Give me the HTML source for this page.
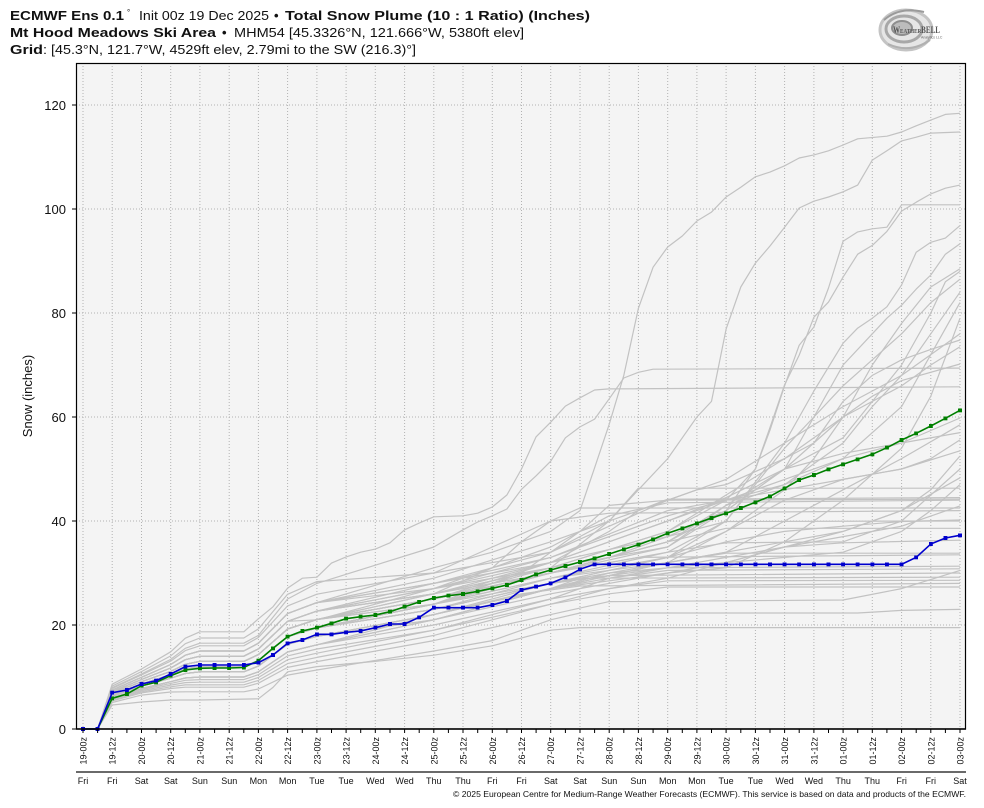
<!DOCTYPE html>
<html><head><meta charset="utf-8"><style>
html,body{margin:0;padding:0;background:#fff;}
svg{display:block;font-family:"Liberation Sans",sans-serif;}
</style></head><body>
<svg width="984" height="808" viewBox="0 0 984 808" xmlns="http://www.w3.org/2000/svg">
<defs>
<marker id="mgr" markerWidth="4" markerHeight="4" refX="2" refY="2" markerUnits="userSpaceOnUse"><rect width="4" height="4" fill="#008000"/></marker>
<marker id="mbl" markerWidth="4" markerHeight="4" refX="2" refY="2" markerUnits="userSpaceOnUse"><rect width="4" height="4" fill="#0000cd"/></marker>
<clipPath id="clip"><rect x="76" y="63" width="890" height="667"/></clipPath>
</defs>

<!-- title -->
<text y="20" font-size="13" fill="#111">
<tspan x="10" font-weight="bold" textLength="114" lengthAdjust="spacingAndGlyphs">ECMWF Ens 0.1</tspan>
<tspan x="127" y="15" font-size="8">°</tspan>
<tspan x="139" y="20" textLength="130" lengthAdjust="spacingAndGlyphs">Init 00z 19 Dec 2025</tspan>
<tspan x="274" font-weight="bold">•</tspan>
<tspan x="285" font-weight="bold" textLength="305" lengthAdjust="spacingAndGlyphs">Total Snow Plume (10 : 1 Ratio) (Inches)</tspan>
</text>
<text y="37" font-size="13" fill="#111">
<tspan x="10" font-weight="bold" textLength="206" lengthAdjust="spacingAndGlyphs">Mt Hood Meadows Ski Area</tspan>
<tspan x="222" font-weight="bold">•</tspan>
<tspan x="234" textLength="290" lengthAdjust="spacingAndGlyphs">MHM54 [45.3326°N, 121.666°W, 5380ft elev]</tspan>
</text>
<text y="54" font-size="13" fill="#111">
<tspan x="10" font-weight="bold" textLength="33" lengthAdjust="spacingAndGlyphs">Grid</tspan>
<tspan x="43" textLength="373" lengthAdjust="spacingAndGlyphs">: [45.3°N, 121.7°W, 4529ft elev, 2.79mi to the SW (216.3)°]</tspan>
</text>

<!-- logo -->
<g>
<ellipse cx="906" cy="30" rx="26" ry="20" fill="#e6e6e6" stroke="#c4c4c4" stroke-width="3"/>
<ellipse cx="904" cy="29" rx="18" ry="13" fill="none" stroke="#a8a8a8" stroke-width="3"/>
<ellipse cx="902" cy="28" rx="10" ry="7" fill="#bcbcbc" stroke="#8e8e8e" stroke-width="2"/>
<path d="M884 20 Q900 6 924 12" fill="none" stroke="#9a9a9a" stroke-width="2"/>
<path d="M888 44 Q910 54 930 40" fill="none" stroke="#b0b0b0" stroke-width="2"/>
<text x="893" y="33" font-family="Liberation Serif,serif" font-size="9" font-weight="bold" fill="#555" textLength="47" lengthAdjust="spacingAndGlyphs">W<tspan font-size="6.5">EATHER</tspan>BELL</text>
<text x="921" y="38.5" font-size="3.5" fill="#666">Analytics LLC</text>
</g>

<!-- plot background -->
<rect x="76" y="63" width="890" height="666" fill="#f4f4f4"/>

<!-- grid -->
<g stroke="#b2b2b2" stroke-width="1" stroke-dasharray="1,2" fill="none">
<path d="M76 625H966M76 521H966M76 417H966M76 313H966M76 209H966M76 105H966"/>
<path d="M83 63V729M112.2 63V729M141.5 63V729M170.7 63V729M199.9 63V729M229.2 63V729M258.4 63V729M287.6 63V729M316.9 63V729M346.1 63V729M375.3 63V729M404.6 63V729M433.8 63V729M463 63V729M492.3 63V729M521.5 63V729M550.7 63V729M580 63V729M609.2 63V729M638.4 63V729M667.7 63V729M696.9 63V729M726.1 63V729M755.4 63V729M784.6 63V729M813.9 63V729M843.1 63V729M872.3 63V729M901.6 63V729M930.8 63V729M960 63V729"/>
</g>

<!-- ensemble members -->
<g clip-path="url(#clip)" fill="none" stroke="#c2c2c2" stroke-width="1.2" stroke-linejoin="round">
<polyline points="83,729 97.6,729 112.2,684.2 141.5,669 170.7,651.8 185.3,638.2 199.9,631.8 243.8,631.8 258.4,618.8 273,606.8 287.6,588.1 302.3,578.2 316.9,577.2 331.5,563.1 346.1,556.9 360.7,552.2 375.3,549.1 390,542.8 404.6,529.8 419.2,523.1 433.8,516.8 463,515.8 477.7,513.2 492.3,507 506.9,495 521.5,469 536.1,436.8 550.7,422.2 565.4,406.1 580,397.8 594.6,390 609.2,388.9 960,386.8"/>
<polyline points="83,729 97.6,729 112.2,687.7 141.5,673.9 170.7,659.4 185.3,648.3 199.9,643.2 243.8,643.2 258.4,635.4 287.6,599 316.9,583.4 375.3,565.2 433.8,547 463,529.8 477.7,522 492.3,515.8 506.9,509 521.5,489.3 536.1,475.8 550.7,461.2 565.4,437.8 580,426.9 594.6,419.1 609.2,398.8 623.8,378 638.4,372.3 653.1,369.2 960,368.1"/>
<polyline points="83,729 97.6,729 112.2,690 141.5,677.3 170.7,664.5 185.3,655.2 199.9,651 243.8,651 258.4,643.2 287.6,613.6 316.9,602.6 433.8,567.8 492.3,552.2 550.7,531.4 580,510.6 594.6,467.8 609.2,424.3 623.8,375.4 638.4,308.3 653.1,267.2 667.7,247 682.3,236 696.9,221 711.5,212.1 726.1,197 740.8,187.2 755.4,176.8 770,172.1 784.6,165.8 799.2,158 813.9,154.9 828.5,150.8 843.1,145 857.7,138.8 886.9,136.2 901.6,132 916.2,125.8 930.8,120.1 945.4,114.4 960,113.3"/>
<polyline points="83,729 97.6,729 112.2,691.6 141.5,679.5 170.7,668 185.3,659.7 199.9,656.2 243.8,656.2 258.4,648.9 287.6,621.3 316.9,611.1 433.8,583.4 492.3,567.8 550.7,552.2 609.2,521 638.4,489.8 667.7,458.6 682.3,437.8 696.9,417 711.5,401.4 726.1,329.1 740.8,287 755.4,263.1 770,246 784.6,227.2 799.2,208 813.9,201.2 828.5,197 843.1,191.8 857.7,185.1 872.3,160.1 886.9,150.8 901.6,140.9 916.2,137.2 930.8,133.1 960,132"/>
<polyline points="83,729 97.6,729 112.2,693.1 141.5,681.7 170.7,671.4 185.3,664.3 199.9,661.4 243.8,661.4 258.4,654.6 287.6,629 316.9,619.5 433.8,593.8 550.7,573 667.7,541.8 726.1,510.6 755.4,469 770,427.4 784.6,384.8 799.2,355.1 813.9,317.2 828.5,302.1 843.1,277.1 857.7,254.2 872.3,245.4 886.9,231.4 901.6,211.1 916.2,202.2 930.8,193.9 945.4,188.2 960,185.1"/>
<polyline points="83,729 97.6,729 112.2,691.6 141.5,679.5 170.7,668 185.3,659.7 199.9,656.2 243.8,656.2 258.4,648.9 287.6,621.3 316.9,611.1 433.8,588.6 550.7,567.8 667.7,531.4 726.1,500.2 755.4,469 770,430 784.6,385.8 799.2,345.2 813.9,327 828.5,288 843.1,241.2 857.7,231.9 872.3,228.8 886.9,227.2 901.6,204.8 960,204.8"/>
<polyline points="83,729 97.6,729 112.2,694.7 141.5,684 170.7,674.8 185.3,668.9 199.9,666.6 243.8,666.6 258.4,660.4 287.6,636.6 316.9,627.9 433.8,604.2 550.7,583.4 667.7,557.4 726.1,521 784.6,443 813.9,391 843.1,343.2 857.7,328.1 872.3,318.2 886.9,306.8 901.6,284.9 916.2,252.2 930.8,242.3 945.4,238.1 960,225.6"/>
<polyline points="83,729 97.6,729 112.2,693.1 141.5,681.7 170.7,671.4 185.3,664.3 199.9,661.4 243.8,661.4 258.4,654.6 287.6,629 316.9,619.5 433.8,599 550.7,573 667.7,547 726.1,510.6 784.6,469 813.9,417 843.1,365 872.3,333.8 886.9,318.2 901.6,305.2 916.2,289.1 930.8,275 945.4,254.2 960,243.8"/>
<polyline points="83,729 97.6,729 112.2,696.2 141.5,686.2 170.7,678.2 185.3,673.5 199.9,671.8 243.8,671.8 258.4,666.1 287.6,644.3 316.9,636.3 433.8,614.6 550.7,588.6 667.7,562.6 726.1,531.4 784.6,489.8 813.9,458.6 843.1,417 872.3,365 901.6,323.4 930.8,287 960,268.8"/>
<polyline points="83,729 97.6,729 112.2,690 141.5,677.3 170.7,664.5 185.3,655.2 199.9,651 243.8,651 258.4,643.2 287.6,613.6 316.9,602.6 433.8,583.4 550.7,562.6 609.2,541.8 667.7,521 726.1,497.6 784.6,469 843.1,437.8 901.6,365 930.8,313 945.4,281.8 960,271.4"/>
<polyline points="83,729 97.6,729 112.2,694.7 141.5,684 170.7,674.8 185.3,668.9 199.9,666.6 243.8,666.6 258.4,660.4 287.6,636.6 316.9,627.9 433.8,604.2 550.7,578.2 667.7,552.2 726.1,521 784.6,448.2 813.9,417 843.1,385.8 872.3,359.8 901.6,333.8 930.8,302.6 960,279.2"/>
<polyline points="83,729 97.6,729 112.2,693.1 141.5,681.7 170.7,671.4 185.3,664.3 199.9,661.4 243.8,661.4 258.4,654.6 287.6,629 316.9,619.5 433.8,599 550.7,573 667.7,541.8 726.1,505.4 784.6,484.6 843.1,443 872.3,406.6 901.6,375.4 930.8,333.8 960,292.2"/>
<polyline points="83,729 97.6,729 112.2,691.6 141.5,679.5 170.7,668 185.3,659.7 199.9,656.2 243.8,656.2 258.4,648.9 287.6,621.3 316.9,619.8 433.8,588.6 550.7,557.4 667.7,515.8 726.1,500.2 784.6,484.6 843.1,458.6 901.6,406.6 930.8,354.6 960,302.6"/>
<polyline points="83,729 97.6,729 112.2,696.2 141.5,686.2 170.7,678.2 185.3,673.5 199.9,671.8 243.8,671.8 258.4,666.1 287.6,644.3 316.9,636.3 433.8,619.8 550.7,593.8 667.7,573 726.1,567.8 784.6,541.8 843.1,500.2 901.6,448.2 930.8,396.2 960,318.2"/>
<polyline points="83,729 97.6,729 112.2,690 141.5,677.3 170.7,664.5 185.3,655.2 199.9,651 243.8,651 258.4,643.2 287.6,613.6 316.9,602.6 433.8,578.2 550.7,541.8 638.4,510.6 726.1,479.4 784.6,443 843.1,406.6 901.6,375.4 930.8,354.6 960,333.8"/>
<polyline points="83,729 97.6,729 112.2,693.1 141.5,681.7 170.7,671.4 185.3,664.3 199.9,661.4 243.8,661.4 258.4,654.6 287.6,629 316.9,619.5 433.8,593.8 550.7,567.8 667.7,531.4 726.1,495 784.6,458.6 813.9,443 843.1,401.4 872.3,375.4 901.6,359.8 930.8,349.4 960,340"/>
<polyline points="83,729 97.6,729 112.2,686.1 141.5,671.6 170.7,655.9 185.3,643.7 199.9,638 243.8,638 258.4,628.9 287.6,594.3 316.9,581.6 433.8,573 550.7,552.2 667.7,500.2 696.9,489.8 726.1,484.6 784.6,458.6 843.1,417 901.6,385.8 930.8,365 960,346.8"/>
<polyline points="83,729 97.6,729 112.2,694.7 141.5,684 170.7,674.8 185.3,668.9 199.9,666.6 243.8,666.6 258.4,660.4 287.6,636.6 316.9,627.9 433.8,604.2 550.7,573 609.2,557.4 667.7,536.6 726.1,510.6 784.6,469 843.1,417 872.3,396.2 901.6,380.6 960,364"/>
<polyline points="83,729 97.6,729 112.2,691.6 141.5,679.5 170.7,668 185.3,659.7 199.9,656.2 243.8,656.2 258.4,648.9 287.6,621.3 316.9,611.1 433.8,588.6 550.7,562.6 667.7,521 726.1,500.2 784.6,479.4 843.1,458.6 901.6,443 960,418"/>
<polyline points="83,729 97.6,729 112.2,697.8 141.5,688.4 170.7,681.7 185.3,678 199.9,677 243.8,677 258.4,671.8 287.6,652 316.9,644.8 433.8,614.6 550.7,583.4 667.7,562.6 726.1,552.2 784.6,521 843.1,489.8 901.6,458.6 960,424.8"/>
<polyline points="83,729 97.6,729 112.2,693.1 141.5,681.7 170.7,671.4 185.3,664.3 199.9,661.4 243.8,661.4 258.4,654.6 287.6,629 316.9,619.5 433.8,599 550.7,567.8 667.7,547 726.1,505.4 784.6,469 843.1,453.4 901.6,443 960,432.6"/>
<polyline points="83,729 97.6,729 112.2,694.7 141.5,684 170.7,674.8 185.3,668.9 199.9,666.6 243.8,666.6 258.4,660.4 287.6,636.6 316.9,627.9 433.8,609.4 550.7,578.2 667.7,557.4 726.1,531.4 784.6,500.2 843.1,479.4 901.6,469 930.8,458.6 960,439.9"/>
<polyline points="83,729 97.6,729 112.2,690 141.5,677.3 170.7,664.5 185.3,655.2 199.9,651 243.8,651 258.4,643.2 287.6,613.6 316.9,602.6 433.8,583.4 550.7,557.4 667.7,510.6 726.1,500.2 784.6,489.8 843.1,479.4 901.6,469 960,450.8"/>
<polyline points="83,729 97.6,729 112.2,696.2 141.5,686.2 170.7,678.2 185.3,673.5 199.9,671.8 243.8,671.8 258.4,666.1 287.6,644.3 316.9,636.3 433.8,614.6 550.7,588.6 667.7,573 726.1,562.6 784.6,547 843.1,531.4 901.6,510.6 930.8,489.8 960,456"/>
<polyline points="83,729 97.6,729 112.2,693.1 141.5,681.7 170.7,671.4 185.3,664.3 199.9,661.4 243.8,661.4 258.4,654.6 287.6,629 316.9,619.5 433.8,604.2 550.7,578.2 667.7,562.6 726.1,552.2 784.6,541.8 843.1,531.4 901.6,510.6 960,477.8"/>
<polyline points="83,729 97.6,729 112.2,694.7 141.5,684 170.7,674.8 185.3,668.9 199.9,666.6 243.8,666.6 258.4,660.4 287.6,636.6 316.9,627.9 433.8,609.4 550.7,583.4 667.7,567.8 726.1,562.6 784.6,557.4 843.1,552.2 901.6,531.4 930.8,510.6 960,484.6"/>
<polyline points="83,729 97.6,729 112.2,691.6 141.5,679.5 170.7,668 185.3,659.7 199.9,656.2 243.8,656.2 258.4,648.9 287.6,621.3 316.9,611.1 433.8,593.8 550.7,567.8 609.2,521 638.4,488.2 960,488.2"/>
<polyline points="83,729 97.6,729 112.2,693.1 141.5,681.7 170.7,671.4 185.3,664.3 199.9,661.4 243.8,661.4 258.4,654.6 287.6,629 316.9,619.5 433.8,599 550.7,562.6 609.2,531.4 638.4,510.6 667.7,499.2 960,497.6"/>
<polyline points="83,729 97.6,729 112.2,694.7 141.5,684 170.7,674.8 185.3,668.9 199.9,666.6 243.8,666.6 258.4,660.4 287.6,636.6 316.9,627.9 433.8,604.2 521.5,573 580,531.4 609.2,505.4 667.7,500.2 960,499.2"/>
<polyline points="83,729 97.6,729 112.2,690 141.5,677.3 170.7,664.5 185.3,655.2 199.9,651 243.8,651 258.4,643.2 287.6,613.6 316.9,602.6 433.8,588.6 550.7,547 609.2,515.8 667.7,502.8 960,500.2"/>
<polyline points="83,729 97.6,729 112.2,696.2 141.5,686.2 170.7,678.2 185.3,673.5 199.9,671.8 243.8,671.8 258.4,666.1 287.6,644.3 316.9,636.3 433.8,619.8 550.7,588.6 667.7,567.8 726.1,557.4 784.6,547 843.1,536.6 901.6,526.2 960,505.9"/>
<polyline points="83,729 97.6,729 112.2,691.6 141.5,679.5 170.7,668 185.3,659.7 199.9,656.2 243.8,656.2 258.4,648.9 287.6,621.3 316.9,611.1 433.8,593.8 492.3,567.8 521.5,541.8 550.7,521 580,508 960,508"/>
<polyline points="83,729 97.6,729 112.2,688.4 141.5,675 170.7,661.1 185.3,650.6 199.9,645.8 243.8,645.8 258.4,637.5 287.6,605.9 316.9,594.2 433.8,573 492.3,547 550.7,521 609.2,513.2 960,510.6"/>
<polyline points="83,729 97.6,729 112.2,694.7 141.5,684 170.7,674.8 185.3,668.9 199.9,666.6 243.8,666.6 258.4,660.4 287.6,636.6 316.9,627.9 433.8,609.4 550.7,583.4 667.7,557.4 726.1,541.8 784.6,531.4 843.1,526.2 901.6,521.5 960,520"/>
<polyline points="83,729 97.6,729 112.2,697.8 141.5,688.4 170.7,681.7 185.3,678 199.9,677 243.8,677 258.4,671.8 287.6,652 316.9,644.8 433.8,625 550.7,599 667.7,578.2 726.1,562.6 784.6,547 843.1,542.8 960,540.2"/>
<polyline points="83,729 97.6,729 112.2,693.1 141.5,681.7 170.7,671.4 185.3,664.3 199.9,661.4 243.8,661.4 258.4,654.6 287.6,629 316.9,619.5 433.8,604.2 521.5,578.2 580,567.8 638.4,557.4 960,554.8"/>
<polyline points="83,729 97.6,729 112.2,696.2 141.5,686.2 170.7,678.2 185.3,673.5 199.9,671.8 243.8,671.8 258.4,666.1 287.6,644.3 316.9,636.3 433.8,614.6 550.7,588.6 609.2,573 667.7,567.8 960,566.2"/>
<polyline points="83,729 97.6,729 112.2,699.4 141.5,690.7 170.7,685.1 185.3,682.6 199.9,682.2 243.8,682.2 258.4,677.5 287.6,659.7 316.9,653.2 433.8,630.2 550.7,599 609.2,578.2 667.7,570.4 960,568.8"/>
<polyline points="83,729 97.6,729 112.2,694.7 141.5,684 170.7,674.8 185.3,668.9 199.9,666.6 243.8,666.6 258.4,660.4 287.6,636.6 316.9,627.9 433.8,609.4 550.7,583.4 609.2,575.6 960,573"/>
<polyline points="83,729 97.6,729 112.2,697.8 141.5,688.4 170.7,681.7 185.3,678 199.9,677 243.8,677 258.4,671.8 287.6,652 316.9,644.8 433.8,619.8 550.7,588.6 580,578.2 960,577.2"/>
<polyline points="83,729 97.6,729 112.2,700.1 141.5,691.8 170.7,686.8 185.3,684.9 243.8,684.8 258.4,680.4 287.6,663.6 316.9,657.4 433.8,635.4 550.7,604.2 609.2,588.6 667.7,580.8 960,580.3"/>
<polyline points="83,729 97.6,729 112.2,696.2 141.5,686.2 170.7,678.2 185.3,673.5 199.9,671.8 243.8,671.8 258.4,666.1 287.6,644.3 316.9,636.3 433.8,614.6 521.5,593.8 580,586 960,583.4"/>
<polyline points="83,729 97.6,729 112.2,698.6 141.5,689.5 170.7,683.4 185.3,680.3 199.9,679.6 243.8,679.6 258.4,674.7 287.6,655.9 316.9,649 433.8,630.2 550.7,604.2 609.2,593.8 667.7,587 960,587"/>
<polyline points="83,729 97.6,729 112.2,700.9 141.5,692.9 170.7,688.5 185.3,687.2 243.8,687.2 258.4,683.2 287.6,667.4 316.9,661.6 433.8,640.6 550.7,614.6 609.2,601.6 843.1,600 901.6,588.6 960,570.4"/>
<polyline points="83,729 97.6,729 112.2,702.5 141.5,695.1 170.7,692 185.3,691.8 243.8,691.8 258.4,689 287.6,675.1 316.9,670 433.8,651 492.3,640.6 550.7,619.8 580,613 857.7,613 901.6,610.4 960,609.4"/>
<polyline points="83,729 97.6,729 112.2,705 141.5,702 170.7,700 199.9,700 258.4,698.8 273,687.4 287.6,671.8 316.9,666.6 375.3,661.4 433.8,655.2 492.3,645.8 550.7,630.2 580,627.6 960,627.6"/>
<polyline points="83,729 97.6,729 112.2,694.7 141.5,684 170.7,674.8 185.3,668.9 199.9,666.6 243.8,666.6 258.4,660.4 287.6,636.6 316.9,627.9 433.8,604.2 550.7,573 667.7,552.2 726.1,542.8 843.1,541.8 901.6,521 960,469"/>
<polyline points="83,729 97.6,729 112.2,697.8 141.5,688.4 170.7,681.7 185.3,678 199.9,677 243.8,677 258.4,671.8 287.6,652 316.9,644.8 433.8,619.8 550.7,588.6 667.7,562.6 726.1,553.2 960,553.2"/>
<polyline points="83,729 97.6,729 112.2,693.1 141.5,681.7 170.7,671.4 185.3,664.3 199.9,661.4 243.8,661.4 258.4,654.6 287.6,629 316.9,619.5 433.8,599 550.7,573 667.7,541.8 726.1,528.3 960,528.3"/>
<polyline points="83,729 97.6,729 112.2,691.6 141.5,679.5 170.7,668 185.3,659.7 199.9,656.2 243.8,656.2 258.4,648.9 287.6,621.3 316.9,611.1 433.8,593.8 550.7,562.6 667.7,536.6 726.1,521.5 960,521"/>
</g>

<!-- mean (green) -->
<polyline fill="none" stroke="#008000" stroke-width="1.6" marker-start="url(#mgr)" marker-mid="url(#mgr)" marker-end="url(#mgr)" points="83,729 97.6,729 112.2,698.3 126.9,694 141.5,685.7 156.1,682.3 170.7,675.7 185.3,670 199.9,668.3 214.6,668 229.2,668 243.8,667.5 258.4,660.7 273,648.3 287.6,636.7 302.3,631 316.9,627.7 331.5,623.3 346.1,618.7 360.7,616.7 375.3,615 390,611.7 404.6,606.7 419.2,602 433.8,598 448.4,595.7 463,594 477.7,591.3 492.3,588.3 506.9,585 521.5,580 536.1,574.3 550.7,570 565.4,566 580,562 594.6,558.3 609.2,554 623.8,549.3 638.4,544.7 653.1,539.3 667.7,533.3 682.3,528.3 696.9,523.3 711.5,518 726.1,513.3 740.8,508 755.4,502.3 770,496.3 784.6,488.3 799.2,480 813.9,475 828.5,469.3 843.1,464.3 857.7,459.3 872.3,454.3 886.9,447.7 901.6,440 916.2,433.3 930.8,426 945.4,418.3 960,410.3"/>
<!-- control (blue) -->
<polyline fill="none" stroke="#0000cd" stroke-width="1.6" marker-start="url(#mbl)" marker-mid="url(#mbl)" marker-end="url(#mbl)" points="83,729 97.6,729 112.2,692.7 126.9,690 141.5,684 156.1,680.7 170.7,674 185.3,666.7 199.9,665 214.6,665 229.2,665 243.8,665 258.4,662.7 273,655 287.6,643.3 302.3,640 316.9,634.3 331.5,634.3 346.1,632.3 360.7,631 375.3,627.7 390,624 404.6,624 419.2,617.3 433.8,607.7 448.4,607.7 463,607.7 477.7,607.7 492.3,605 506.9,601 521.5,590 536.1,586.7 550.7,583.3 565.4,577.3 580,569.3 594.6,564.3 609.2,564.3 623.8,564.3 638.4,564.3 653.1,564.3 667.7,564.3 682.3,564.3 696.9,564.3 711.5,564.3 726.1,564.3 740.8,564.3 755.4,564.3 770,564.3 784.6,564.3 799.2,564.3 813.9,564.3 828.5,564.3 843.1,564.3 857.7,564.3 872.3,564.3 886.9,564.3 901.6,564.3 916.2,557.3 930.8,544 945.4,538 960,535.3"/>

<!-- frame -->
<rect x="76.5" y="63.5" width="889" height="665.5" fill="none" stroke="#000" stroke-width="1.2"/>
<line x1="76" y1="729" x2="966" y2="729" stroke="#000" stroke-width="1.5"/>

<!-- y ticks -->
<path d="M72 729H76M72 625H76M72 521H76M72 417H76M72 313H76M72 209H76M72 105H76" stroke="#000" stroke-width="1"/>
<g font-size="13" fill="#111" text-anchor="end">
<text x="66" y="734">0</text>
<text x="66" y="630">20</text>
<text x="66" y="526">40</text>
<text x="66" y="422">60</text>
<text x="66" y="318">80</text>
<text x="66" y="214">100</text>
<text x="66" y="110">120</text>
</g>
<text transform="translate(32,396) rotate(-90)" text-anchor="middle" font-size="13" fill="#111">Snow (inches)</text>

<!-- x ticks -->
<path stroke="#000" stroke-width="1" d="M83 729v4M97.6 729v4M112.2 729v4M126.9 729v4M141.5 729v4M156.1 729v4M170.7 729v4M185.3 729v4M199.9 729v4M214.6 729v4M229.2 729v4M243.8 729v4M258.4 729v4M273 729v4M287.6 729v4M302.3 729v4M316.9 729v4M331.5 729v4M346.1 729v4M360.7 729v4M375.3 729v4M390 729v4M404.6 729v4M419.2 729v4M433.8 729v4M448.4 729v4M463 729v4M477.7 729v4M492.3 729v4M506.9 729v4M521.5 729v4M536.1 729v4M550.7 729v4M565.4 729v4M580 729v4M594.6 729v4M609.2 729v4M623.8 729v4M638.4 729v4M653.1 729v4M667.7 729v4M682.3 729v4M696.9 729v4M711.5 729v4M726.1 729v4M740.8 729v4M755.4 729v4M770 729v4M784.6 729v4M799.2 729v4M813.9 729v4M828.5 729v4M843.1 729v4M857.7 729v4M872.3 729v4M886.9 729v4M901.6 729v4M916.2 729v4M930.8 729v4M945.4 729v4M960 729v4"/>
<g font-size="9" fill="#111" text-anchor="end">
<text transform="translate(86.5,737) rotate(-90)">19-00z</text>
<text transform="translate(115.7,737) rotate(-90)">19-12z</text>
<text transform="translate(145,737) rotate(-90)">20-00z</text>
<text transform="translate(174.2,737) rotate(-90)">20-12z</text>
<text transform="translate(203.4,737) rotate(-90)">21-00z</text>
<text transform="translate(232.7,737) rotate(-90)">21-12z</text>
<text transform="translate(261.9,737) rotate(-90)">22-00z</text>
<text transform="translate(291.1,737) rotate(-90)">22-12z</text>
<text transform="translate(320.4,737) rotate(-90)">23-00z</text>
<text transform="translate(349.6,737) rotate(-90)">23-12z</text>
<text transform="translate(378.8,737) rotate(-90)">24-00z</text>
<text transform="translate(408.1,737) rotate(-90)">24-12z</text>
<text transform="translate(437.3,737) rotate(-90)">25-00z</text>
<text transform="translate(466.5,737) rotate(-90)">25-12z</text>
<text transform="translate(495.8,737) rotate(-90)">26-00z</text>
<text transform="translate(525,737) rotate(-90)">26-12z</text>
<text transform="translate(554.2,737) rotate(-90)">27-00z</text>
<text transform="translate(583.5,737) rotate(-90)">27-12z</text>
<text transform="translate(612.7,737) rotate(-90)">28-00z</text>
<text transform="translate(641.9,737) rotate(-90)">28-12z</text>
<text transform="translate(671.2,737) rotate(-90)">29-00z</text>
<text transform="translate(700.4,737) rotate(-90)">29-12z</text>
<text transform="translate(729.6,737) rotate(-90)">30-00z</text>
<text transform="translate(758.9,737) rotate(-90)">30-12z</text>
<text transform="translate(788.1,737) rotate(-90)">31-00z</text>
<text transform="translate(817.4,737) rotate(-90)">31-12z</text>
<text transform="translate(846.6,737) rotate(-90)">01-00z</text>
<text transform="translate(875.8,737) rotate(-90)">01-12z</text>
<text transform="translate(905.1,737) rotate(-90)">02-00z</text>
<text transform="translate(934.3,737) rotate(-90)">02-12z</text>
<text transform="translate(963.5,737) rotate(-90)">03-00z</text>
</g>

<line x1="76" y1="772" x2="966" y2="772" stroke="#111" stroke-width="1.2"/>
<g font-size="9" fill="#111" text-anchor="middle">
<text x="83" y="784">Fri</text>
<text x="112.2" y="784">Fri</text>
<text x="141.5" y="784">Sat</text>
<text x="170.7" y="784">Sat</text>
<text x="199.9" y="784">Sun</text>
<text x="229.2" y="784">Sun</text>
<text x="258.4" y="784">Mon</text>
<text x="287.6" y="784">Mon</text>
<text x="316.9" y="784">Tue</text>
<text x="346.1" y="784">Tue</text>
<text x="375.3" y="784">Wed</text>
<text x="404.6" y="784">Wed</text>
<text x="433.8" y="784">Thu</text>
<text x="463" y="784">Thu</text>
<text x="492.3" y="784">Fri</text>
<text x="521.5" y="784">Fri</text>
<text x="550.7" y="784">Sat</text>
<text x="580" y="784">Sat</text>
<text x="609.2" y="784">Sun</text>
<text x="638.4" y="784">Sun</text>
<text x="667.7" y="784">Mon</text>
<text x="696.9" y="784">Mon</text>
<text x="726.1" y="784">Tue</text>
<text x="755.4" y="784">Tue</text>
<text x="784.6" y="784">Wed</text>
<text x="813.9" y="784">Wed</text>
<text x="843.1" y="784">Thu</text>
<text x="872.3" y="784">Thu</text>
<text x="901.6" y="784">Fri</text>
<text x="930.8" y="784">Fri</text>
<text x="960" y="784">Sat</text>
</g>
<text x="453" y="797" font-size="8.5" fill="#111" textLength="513" lengthAdjust="spacingAndGlyphs">© 2025 European Centre for Medium-Range Weather Forecasts (ECMWF). This service is based on data and products of the ECMWF.</text>
</svg>
</body></html>
